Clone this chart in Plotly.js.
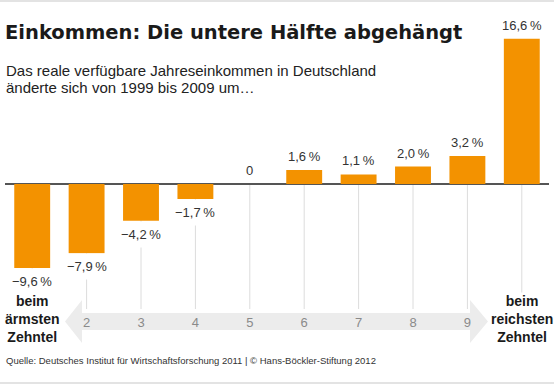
<!DOCTYPE html>
<html>
<head>
<meta charset="utf-8">
<script src="https://cdn.plot.ly/plotly-3.0.1.min.js"></script>
<style>
html,body{margin:0;padding:0;background:#fff;}
#chart{width:554px;height:384px;}
</style>
</head>
<body>
<div id="chart"></div>
<script>
// ---- data ----
const deciles = ['1','2','3','4','5','6','7','8','9','10'];
const changes = [-9.6, -7.9, -4.2, -1.7, 0, 1.6, 1.1, 2.0, 3.2, 16.6];
const tickLabels = ['2','3','4','5','6','7','8','9'];
const endLabels = ['beim<br>ärmsten<br>Zehntel', 'beim<br>reichsten<br>Zehntel'];
const titleText = 'Einkommen: Die untere Hälfte abgehängt';
const subtitleLines = ['Das reale verfügbare Jahreseinkommen in Deutschland', 'änderte sich von 1999 bis 2009 um…'];
const sourceText = 'Quelle: Deutsches Institut für Wirtschaftsforschung 2011 | © Hans-Böckler-Stiftung 2012';

// ---- layout geometry (pixels) ----
const W = 554, H = 384;
const L = 5, R = 549, T = 30, B = 313;
const BASE = 184, K = 8.75; // zero line pixel and px per percent
const px2x = px => (px - L) / (R - L);
const px2y = py => (B - py) / (B - T);
const py2val = py => (BASE - py) / K;

function fmt(v) {
  if (v === 0) return '0';
  return (v < 0 ? '\u2212' : '') + Math.abs(v).toFixed(1).replace('.', ',') + '\u2009%';
}

const ORANGE = '#F39200';
const sans = 'Liberation Sans, Arial, sans-serif';

const trace = {
  type: 'bar',
  x: deciles,
  y: changes,
  marker: {color: ORANGE},
  hoverinfo: 'skip'
};

// category positions (index on the category axis)
const pos = deciles.map((d, i) => i);

const shapes = [];
// vertical guide lines from zero line down to the arrow
pos.forEach(p => {
  shapes.push({type: 'line', xref: 'x', yref: 'y', x0: p, x1: p, y0: 0, y1: py2val(309),
    line: {color: '#dcdcdc', width: 1}, layer: 'below'});
});
// grey arrow band
const arrowPts = [[65,321.5],[82,300],[82,313],[470,313],[470,300],[488,321.5],[470,343],[470,330],[82,330],[82,343]];
shapes.push({type: 'path', xref: 'paper', yref: 'paper', layer: 'below',
  path: 'M' + arrowPts.map(p => px2x(p[0]).toFixed(5) + ',' + px2y(p[1]).toFixed(5)).join(' L') + ' Z',
  fillcolor: '#ececec', line: {width: 0}});
// thin frame bars top and bottom
shapes.push({type: 'rect', xref: 'paper', yref: 'paper', x0: px2x(0), x1: px2x(W), y0: px2y(0), y1: px2y(2),
  fillcolor: '#e3e3e3', line: {width: 0}, layer: 'below'});
shapes.push({type: 'rect', xref: 'paper', yref: 'paper', x0: px2x(0), x1: px2x(W), y0: px2y(382), y1: px2y(384),
  fillcolor: '#e3e3e3', line: {width: 0}, layer: 'below'});

const annotations = [];
pos.forEach((p, i) => {
  const v = changes[i];
  annotations.push({
    x: p, y: v, xref: 'x', yref: 'y',
    text: fmt(v), showarrow: false,
    yanchor: v < 0 ? 'top' : 'bottom',
    font: {family: sans, size: 13, color: '#333'},
    bgcolor: v < 0 ? '#ffffff' : 'rgba(0,0,0,0)',
    borderpad: 5
  });
});
// end labels
[[pos[0], endLabels[0]], [pos[pos.length-1], endLabels[1]]].forEach(([p, t]) => {
  annotations.push({
    x: p, xref: 'x', y: px2y(319), yref: 'paper', yanchor: 'middle',
    text: t, showarrow: false, align: 'center',
    font: {family: sans, size: 14, color: '#1a1a1a', weight: 'bold'},
    bgcolor: '#ffffff', borderpad: 0
  });
});
// subtitle lines
subtitleLines.forEach((t, i) => {
  annotations.push({
    x: px2x(4), xref: 'paper', xanchor: 'left',
    y: px2y(70 + i * 17.5), yref: 'paper', yanchor: 'middle',
    text: t, showarrow: false,
    font: {family: sans, size: 15, color: '#222'}
  });
});
// source
annotations.push({
  x: px2x(4), xref: 'paper', xanchor: 'left',
  y: px2y(360), yref: 'paper', yanchor: 'middle',
  text: sourceText, showarrow: false,
  font: {family: sans, size: 9.5, color: '#333'}
});

const layout = {
  width: W, height: H,
  margin: {l: L, r: W - R, t: T, b: H - B, pad: 0},
  paper_bgcolor: '#ffffff', plot_bgcolor: 'rgba(0,0,0,0)',
  showlegend: false,
  bargap: 0.34,
  title: {
    text: '<b>' + titleText + '</b>',
    font: {family: 'DejaVu Sans, sans-serif', size: 19.5, color: '#1a1a1a'},
    x: 5 / W, xanchor: 'left', xref: 'container',
    y: 1 - 32 / H, yanchor: 'middle', yref: 'container'
  },
  xaxis: {
    type: 'category', range: [-0.5, 9.5],
    tickvals: tickLabels, ticktext: tickLabels,
    showgrid: false, zeroline: false, showline: false, ticks: '',
    tickfont: {family: sans, size: 13, color: '#8a8a8a'},
    fixedrange: true
  },
  yaxis: {
    range: [py2val(B), py2val(T)],
    showticklabels: false, showgrid: false, ticks: '',
    zeroline: true, zerolinecolor: '#555555', zerolinewidth: 1.5,
    showline: false, fixedrange: true
  },
  shapes: shapes,
  annotations: annotations
};

Plotly.newPlot('chart', [trace], layout, {staticPlot: true, displayModeBar: false});
</script>
</body>
</html>
